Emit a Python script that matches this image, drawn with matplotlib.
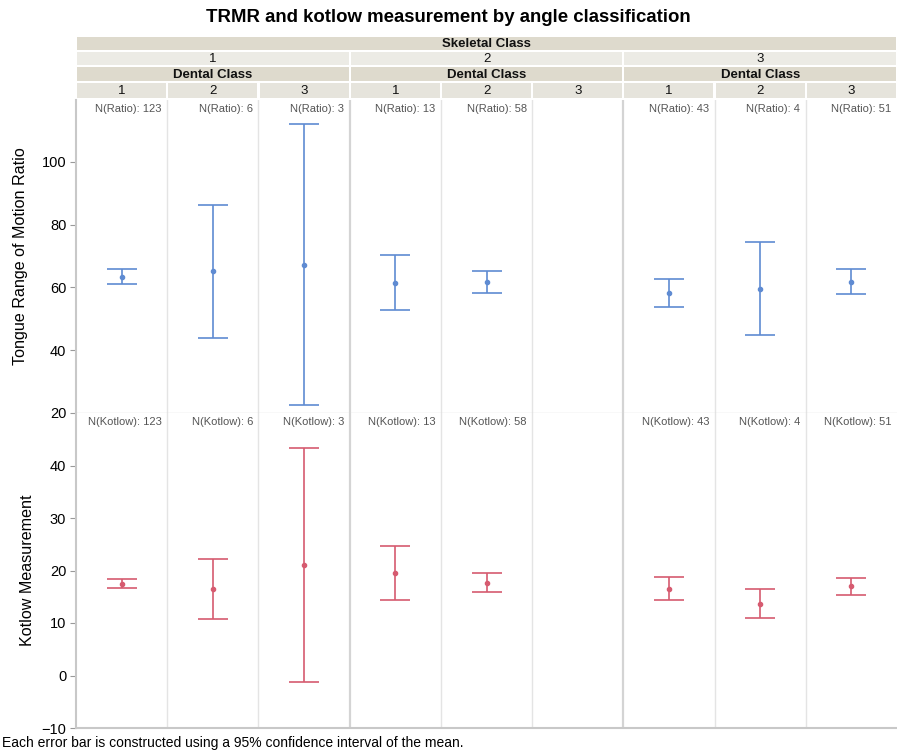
import numpy as np
import matplotlib
matplotlib.use("Agg")
import matplotlib.pyplot as plt
from matplotlib.patches import Rectangle

plt.rcParams['font.family'] = ['Liberation Sans', 'DejaVu Sans']

## Data
skeletal_classes = ["1", "2", "3"]
dental_classes = ["1", "2", "3"]

# one value per (skeletal, dental) cell, S2-D3 is empty
ratio_mean = [63.4, 65.1, 67.1, 61.4, 61.7, np.nan, 58.3, 59.6, 61.8]
ratio_low = [61.2, 44.0, 22.5, 52.7, 58.2, np.nan, 53.8, 44.9, 57.8]
ratio_high = [65.9, 86.2, 112.0, 70.2, 65.1, np.nan, 62.8, 74.5, 65.9]
ratio_n = [123, 6, 3, 13, 58, None, 43, 4, 51]

kotlow_mean = [17.4, 16.5, 21.1, 19.5, 17.7, np.nan, 16.5, 13.7, 17.0]
kotlow_low = [16.6, 10.7, -1.2, 14.4, 16.0, np.nan, 14.4, 10.9, 15.4]
kotlow_high = [18.3, 22.2, 43.4, 24.6, 19.5, np.nan, 18.7, 16.4, 18.6]
kotlow_n = [123, 6, 3, 13, 58, None, 43, 4, 51]

## Figure
W, H = 897, 753
fig = plt.figure(figsize=(W / 100, H / 100), dpi=100)

def fx(px):
    return px / W

def fy(py):
    return 1 - py / H

left_px, right_px = 76, 897
x = np.arange(9)

def make_panel(top_px, bot_px, mean, low, high, n_list, n_name, color, ylim, yticks, ylabel):
    ax = fig.add_axes([fx(left_px), fy(bot_px), fx(right_px - left_px), (bot_px - top_px) / H])
    mean = np.array(mean)
    err = [mean - np.array(low), np.array(high) - mean]
    ax.errorbar(x, mean, yerr=err, fmt='o', color=color, ecolor=color,
                markersize=3, elinewidth=1.2, capsize=11, capthick=1.2)
    ax.set_xlim(-0.5, 8.5)
    ax.set_ylim(*ylim)
    ax.set_yticks(yticks)
    ax.set_xticks([])
    ax.tick_params(axis='y', labelsize=10.5, length=4, color='#999999', pad=3)
    ax.set_ylabel(ylabel, fontsize=11.6)
    # column separators
    for b in np.arange(0.5, 8.5, 1):
        thick = b in (2.5, 5.5)
        ax.axvline(b, color='#d4d4d4' if thick else '#e4e4e4', lw=1.6 if thick else 1.0)
    for s in ['top', 'right']:
        ax.spines[s].set_visible(False)
    ax.spines['left'].set_color('#c8c8c8')
    ax.spines['left'].set_linewidth(1.5)
    ax.spines['bottom'].set_color('#dcdcdc')
    ax.spines['bottom'].set_linewidth(1.0)
    # N labels
    for i, n in enumerate(n_list):
        if n is None:
            continue
        ax.text(i + 0.44, ylim[1] - (ylim[1] - ylim[0]) * 0.012, f"N({n_name}): {n}",
                ha='right', va='top', fontsize=8, color='#555555')
    return ax

ax1 = make_panel(100, 413, ratio_mean, ratio_low, ratio_high, ratio_n, "Ratio",
                 '#5f8bd2', (20, 119.7), [20, 40, 60, 80, 100], "Tongue Range of Motion Ratio")
ax2 = make_panel(413, 728, kotlow_mean, kotlow_low, kotlow_high, kotlow_n, "Kotlow",
                 '#d65b70', (-10, 50), [-10, 0, 10, 20, 30, 40], "Kotlow Measurement")
ax2.spines['bottom'].set_color('#c8c8c8')
ax2.spines['bottom'].set_linewidth(1.5)
ax1.yaxis.set_label_coords(-0.058, 0.5)
ax2.yaxis.set_label_coords(-0.05, 0.5)

## Header bands
hax = fig.add_axes([fx(left_px), fy(100), fx(right_px - left_px), 64 / H])
hax.set_xlim(-0.5, 8.5)
hax.set_ylim(64, 0)
hax.axis('off')

dark = '#dedacd'
light = '#ecebe5'
mid = '#e6e4dc'
gap = 0.012

def cell(x0, x1, y0, y1, color, label, bold=False):
    hax.add_patch(Rectangle((x0 + gap, y0 + 0.6), x1 - x0 - 2 * gap, y1 - y0 - 1.2,
                            facecolor=color, edgecolor='none'))
    hax.text((x0 + x1) / 2, (y0 + y1) / 2 + 0.5, label, ha='center', va='center',
             fontsize=9.5, fontweight='bold' if bold else 'normal', color='#111111')

cell(-0.5, 8.5, 0, 15, dark, "Skeletal Class", bold=True)
for k, sk in enumerate(skeletal_classes):
    x0 = -0.5 + 3 * k
    cell(x0, x0 + 3, 15, 30, light, sk)
    cell(x0, x0 + 3, 30, 46, dark, "Dental Class", bold=True)
    for j, dc in enumerate(dental_classes):
        cell(x0 + j, x0 + j + 1, 46, 63, mid, dc)

fig.text(0.5, fy(18), "TRMR and kotlow measurement by angle classification",
         ha='center', va='center', fontsize=13.4, fontweight='bold')
fig.text(fx(2), fy(743), "Each error bar is constructed using a 95% confidence interval of the mean.",
         ha='left', va='center', fontsize=10)

fig.savefig("out.png", dpi=100)
